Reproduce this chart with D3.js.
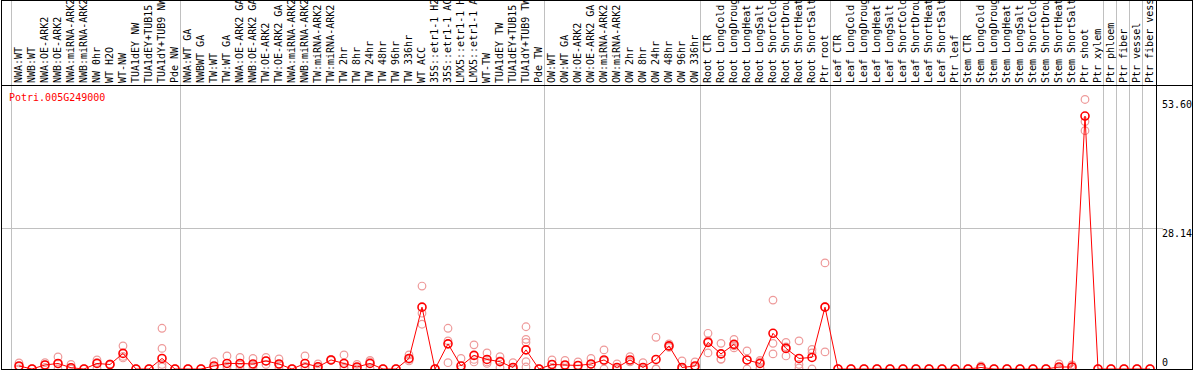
<!DOCTYPE html>
<html>
<head>
<meta charset="utf-8">
<script src="https://cdn.jsdelivr.net/npm/d3@7/dist/d3.min.js"></script>
<style>
  body { margin: 0; background: #fff; }
  text { font-family: "DejaVu Sans Mono", monospace; font-size: 10px; }
</style>
</head>
<body>
<script>
const geneId = "Potri.005G249000";

const samples = [
  "NWA:WT", "NWB:WT", "NWA:OE-ARK2", "NWB:OE-ARK2", "NWA:miRNA-ARK2", "NWB:miRNA-ARK2",
  "NW 0hr", "WT H2O", "WT-NW", "TUA1dEY NW", "TUA1dEY+TUB15", "TUA1dY+TUB9 NW", "Pde NW",
  "NWA:WT GA", "NWBWT GA", "TW:WT", "TW:WT GA", "NWA:OE-ARK2 GA", "NWB:OE-ARK2 GA",
  "TW:OE-ARK2", "TW:OE-ARK2 GA", "NWA:miRNA-ARK2", "NWB:miRNA-ARK2", "TW:miRNA-ARK2",
  "TW:miRNA-ARK2", "TW 2hr", "TW 8hr", "TW 24hr", "TW 48hr", "TW 96hr", "TW 336hr",
  "WT ACC", "35S::etr1-1 H2O", "35S::etr1-1 ACC", "LMX5::etr1-1 H2O", "LMX5::etr1-1 ACC",
  "WT-TW", "TUA1dEY TW", "TUA1dEY+TUB15", "TUA1dY+TUB9 TW", "Pde TW",
  "OW:WT", "OW:WT GA", "OW:OE-ARK2", "OW:OE-ARK2 GA", "OW:miRNA-ARK2", "OW:miRNA-ARK2",
  "OW 2hr", "OW 8hr", "OW 24hr", "OW 48hr", "OW 96hr", "OW 336hr",
  "Root CTR", "Root LongCold", "Root LongDrought", "Root LongHeat", "Root LongSalt",
  "Root ShortCold", "Root ShortDrought", "Root ShortHeat", "Root ShortSalt", "Ptr root",
  "Leaf CTR", "Leaf LongCold", "Leaf LongDrought", "Leaf LongHeat", "Leaf LongSalt",
  "Leaf ShortCold", "Leaf ShortDrought", "Leaf ShortHeat", "Leaf ShortSalt", "Ptr leaf",
  "Stem CTR", "Stem LongCold", "Stem LongDrought", "Stem LongHeat", "Stem LongSalt",
  "Stem ShortCold", "Stem ShortDrought", "Stem ShortHeat", "Stem ShortSalt", "Ptr shoot",
  "Ptr xylem", "Ptr phloem", "Ptr fiber", "Ptr vessel", "Ptr fiber vessel"
];

// mean expression per sample
const means = [
  0.6, 0, 0.8, 1.1, 0.25, 0, 1.1, 0.9, 3.1, 0, 0, 2.1, 0,
  0, 0, 0.6, 1.1, 1.1, 1.0, 1.6, 1.0, 0, 1.1, 0.45, 1.8, 1.1, 0.4, 1.1, 0, 0,
  2.1, 12.3, 0, 5.0, 0.6, 2.7, 1.9, 1.45, 0.3, 3.8, 0,
  0.9, 0.8, 0.7, 1.0, 1.8, 0.3, 1.8, 0.3, 1.9, 4.6, 0.3, 0.6,
  5.3, 3.0, 4.9, 1.8, 1.1, 7.1, 4.1, 2.1, 2.3, 12.3,
  0, 0, 0, 0, 0, 0, 0, 0, 0, 0,
  0, 0.3, 0, 0, 0, 0, 0, 0.4, 0.4, 50.3,
  0, 0, 0, 0, 0
];

// individual replicate values per sample
const replicates = [
  [1.2, 0.5, 0], [0, 0, 0], [1.25, 0.8, 0.3], [2.4, 1.0, 0], [0.9, 0, 0], [0, 0, 0],
  [1.8, 1.3, 0.2], [1.0, 0.9, 0.8], [4.6, 2.2, 2.5], [0, 0, 0], [0, 0, 0],
  [8.1, 4.1, 0.9, 0.4], [0, 0, 0],
  [0, 0, 0], [0, 0, 0], [1.45, 0.3, 0], [2.6, 0.6, 0.1], [2.3, 0.8, 0.2], [2.1, 0.7, 0.2],
  [2.3, 0.9, 1.6], [2.0, 0.8, 0.2], [0, 0, 0], [2.6, 0.5, 0.2], [1.0, 0.3, 0],
  [1.9, 1.7, 1.8], [2.8, 0.4, 0.1], [0.9, 0.3, 0], [1.7, 1.4, 0.2], [0, 0, 0], [0, 0, 0],
  [2.8, 1.9, 1.6], [16.5, 11.1, 8.9], [0, 0, 0], [8.1, 5.6, 1.25], [2.1, 0, 0],
  [4.8, 1.9, 1.4], [3.2, 1.4, 1.1], [2.45, 1.6, 0.3], [1.25, 0, 0],
  [8.4, 5.9, 5.3, 1.45, 0.4], [0, 0, 0],
  [1.8, 0.9, 0], [1.7, 0.7, 0], [1.4, 0.7, 0], [2.1, 0.9, 0], [3.8, 1.6, 0],
  [1.0, 0, 0], [2.45, 1.4, 1.5], [1.25, 0, 0], [6.3, 0, 0], [5.0, 4.5, 4.3],
  [1.6, 0, 0], [1.4, 0.4, 0],
  [7.1, 5.6, 3.2], [5.1, 2.0, 1.9], [5.9, 4.6, 4.2], [3.6, 1.8, 0], [1.7, 1.4, 0.2],
  [13.7, 5.1, 3.0], [5.3, 4.4, 2.6], [5.6, 0.9, 0.2], [3.9, 3.2, 0], [21.1, 12.4, 3.4],
  [0, 0, 0], [0, 0, 0], [0, 0, 0], [0, 0, 0], [0, 0, 0],
  [0, 0, 0], [0, 0, 0], [0, 0, 0], [0, 0, 0], [0, 0, 0],
  [0, 0, 0], [0.6, 0.3, 0], [0, 0, 0], [0, 0, 0], [0, 0, 0],
  [0, 0, 0], [0, 0, 0], [1.0, 0.2, 0], [0.8, 0.3, 0], [53.6, 49.2, 47.4],
  [0, 0, 0], [0, 0, 0], [0, 0, 0], [0, 0, 0], [0, 0, 0]
];

// samples that start a new block (gray separator on their left)
const blockStarts = [
  "NWA:WT", "NWA:WT GA", "OW:WT", "Root CTR", "Leaf CTR", "Stem CTR",
  "Ptr phloem", "Ptr fiber", "Ptr vessel", "Ptr fiber vessel"
];

const yTicks = [0, 28.14, 53.60];
const yGrid = [28.14];
const yMax = 56.28;

// Layout
const width = 1194;
const height = 370;
const plot = { left: 11, right: 1155, top: 86, bottom: 369 };
const labelBase = 83;

const svg = d3.select("body")
  .append("svg")
  .attr("width", width)
  .attr("height", height);

const x = d3.scaleBand()
  .domain(d3.range(samples.length))
  .range([plot.left, plot.right]);

const y = d3.scaleLinear()
  .domain([0, yMax])
  .range([plot.bottom, plot.top]);

const px = (i) => x(i) + 8;

// gray column-block separators
svg.append("g")
  .selectAll("line")
  .data(blockStarts.map((name) => samples.indexOf(name)))
  .enter()
  .append("line")
  .attr("x1", (d) => x(d) + 0.5)
  .attr("x2", (d) => x(d) + 0.5)
  .attr("y1", 0)
  .attr("y2", plot.bottom)
  .attr("stroke", "#c0c0c0");

// horizontal grid
svg.append("g")
  .selectAll("line")
  .data(yGrid)
  .enter()
  .append("line")
  .attr("x1", 1)
  .attr("x2", 1163)
  .attr("y1", (d) => Math.round(y(d)) + 0.5)
  .attr("y2", (d) => Math.round(y(d)) + 0.5)
  .attr("stroke", "#c0c0c0");

// column labels (long ones run off the top, as in the original)
svg.append("g")
  .selectAll("text")
  .data(samples)
  .enter()
  .append("text")
  .attr("transform", (d, i) => `translate(${x(i) + 11},${labelBase}) rotate(-90)`)
  .attr("fill", "#000")
  .text((d) => d);

// frame
const frame = svg.append("g").attr("stroke", "#000").attr("fill", "none");
frame.append("rect")
  .attr("x", 1.5).attr("y", 0.5)
  .attr("width", width - 3).attr("height", plot.bottom);
frame.append("line")
  .attr("x1", 1).attr("x2", width - 1)
  .attr("y1", plot.top - 0.5).attr("y2", plot.top - 0.5);
frame.append("line")
  .attr("x1", plot.right + 1.5).attr("x2", plot.right + 1.5)
  .attr("y1", 0).attr("y2", plot.bottom);

// gene id
svg.append("text")
  .attr("x", 9)
  .attr("y", 101)
  .attr("fill", "#ff0000")
  .text(geneId);

// y labels
svg.append("g")
  .selectAll("text")
  .data(yTicks)
  .enter()
  .append("text")
  .attr("x", 1162)
  .attr("y", (d) => (d === 0 ? 366 : y(d) + 9))
  .attr("fill", "#000")
  .text((d) => (d === 0 ? "0" : d.toFixed(2)));

// clip points to the plot
svg.append("clipPath").attr("id", "plotClip")
  .append("rect")
  .attr("x", 2).attr("y", plot.top)
  .attr("width", plot.right - 2).attr("height", plot.bottom - plot.top);

const marks = svg.append("g").attr("clip-path", "url(#plotClip)");

// replicates
const repPoints = replicates.flatMap((vals, i) => vals.map((v) => ({ i, v })));
marks.append("g")
  .selectAll("circle")
  .data(repPoints)
  .enter()
  .append("circle")
  .attr("cx", (d) => px(d.i))
  .attr("cy", (d) => y(d.v))
  .attr("r", 3.8)
  .attr("fill", "none")
  .attr("stroke", "#ee9a9a")
  .attr("stroke-width", 1.2);

// mean line
const line = d3.line()
  .x((d, i) => px(i))
  .y((d) => y(d));

marks.append("path")
  .datum(means)
  .attr("d", line)
  .attr("fill", "none")
  .attr("stroke", "#ff0000")
  .attr("stroke-width", 1);

// mean points
marks.append("g")
  .selectAll("circle")
  .data(means)
  .enter()
  .append("circle")
  .attr("cx", (d, i) => px(i))
  .attr("cy", (d) => y(d))
  .attr("r", 4)
  .attr("fill", "none")
  .attr("stroke", "#ff0000")
  .attr("stroke-width", 1.6);
</script>
</body>
</html>
